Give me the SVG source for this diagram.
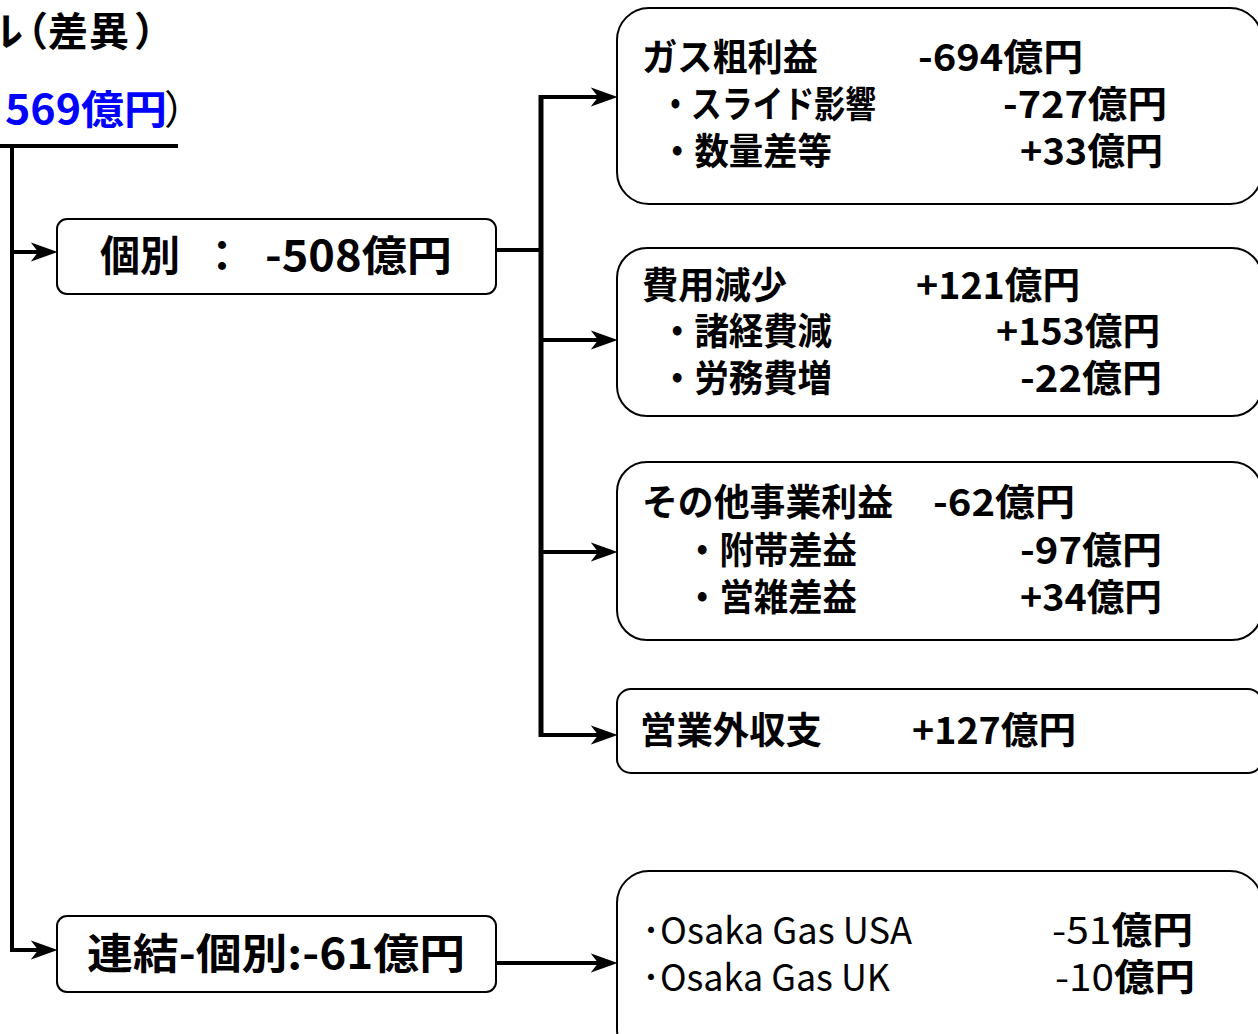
<svg xmlns="http://www.w3.org/2000/svg" width="1258" height="1034" viewBox="0 0 1258 1034">
<style>
.box{fill:#fff;stroke:#000;stroke-width:2}
.t{font-family:"Noto Sans CJK JP","Liberation Sans",sans-serif;font-weight:700;font-size:37px;fill:#000}
.r{font-weight:400}
.big{font-size:42px}
.hd{font-size:40px}
.ln{fill:none;stroke:#000;stroke-width:4}
.arr{fill:none;stroke:#000;stroke-width:4;marker-end:url(#ah)}
</style>
<defs>
<marker id="ah" markerUnits="userSpaceOnUse" viewBox="0 0 25 20" markerWidth="27" markerHeight="22" refX="17" refY="10" orient="auto">
<path d="M0,1 L25,10 L0,19 L7,10 Z" fill="#000"/>
</marker>
</defs>
<rect width="1258" height="1034" fill="#fff"/>

<g id="title">
<text class="t hd" x="-17 8 48 89 134" y="46">ル（差異）</text>
<text class="t hd" x="-14" y="124" style="fill:#0000ff">-</text>
<text class="t hd" x="5" y="124" textLength="162" lengthAdjust="spacingAndGlyphs" style="fill:#0000ff">569億円</text>
<text class="t hd r" x="164" y="124">）</text>
</g>

<g id="connectors">
<path class="ln" d="M0,146 H178"/>
<path class="arr" d="M12,144 V950 H49"/>
<path class="arr" d="M12,252 H49"/>
<path class="ln" d="M496,250 H541"/>
<path class="ln" d="M541,95 V737" style="stroke-width:5"/>
<path class="arr" d="M539,97 H609"/>
<path class="arr" d="M541,340 H609"/>
<path class="arr" d="M541,552 H609"/>
<path class="arr" d="M539,735 H609"/>
<path class="arr" d="M496,963 H609"/>
</g>

<g id="node-kobetsu">
<rect class="box" x="57" y="219" width="439" height="75" rx="10"/>
<text class="t big" x="100" y="271" textLength="80" lengthAdjust="spacingAndGlyphs">個別</text>
<text class="t big" x="201" y="271">：</text>
<text class="t big" x="265" y="271" textLength="187" lengthAdjust="spacingAndGlyphs">-508億円</text>
</g>

<g id="node-renketsu">
<rect class="box" x="57" y="916" width="439" height="76" rx="10"/>
<text class="t big" x="87" y="969" textLength="378" lengthAdjust="spacingAndGlyphs">連結-個別:-61億円</text>
</g>

<g id="node-gas">
<rect class="box" x="617" y="8" width="645" height="196" rx="32"/>
<text class="t" x="642" y="71" textLength="176" lengthAdjust="spacingAndGlyphs">ガス粗利益</text>
<text class="t" x="918" y="71" textLength="165" lengthAdjust="spacingAndGlyphs">-694億円</text>
<text class="t" x="660" y="118" textLength="216" lengthAdjust="spacingAndGlyphs">・スライド影響</text>
<text class="t" x="1003" y="118" textLength="164" lengthAdjust="spacingAndGlyphs">-727億円</text>
<text class="t" x="660" y="165" textLength="172" lengthAdjust="spacingAndGlyphs">・数量差等</text>
<text class="t" x="1020" y="165" textLength="143" lengthAdjust="spacingAndGlyphs">+33億円</text>
</g>

<g id="node-hiyou">
<rect class="box" x="617" y="248" width="645" height="168" rx="30"/>
<text class="t" x="642" y="299" textLength="145" lengthAdjust="spacingAndGlyphs">費用減少</text>
<text class="t" x="916" y="299" textLength="164" lengthAdjust="spacingAndGlyphs">+121億円</text>
<text class="t" x="660" y="345" textLength="172" lengthAdjust="spacingAndGlyphs">・諸経費減</text>
<text class="t" x="996" y="345" textLength="164" lengthAdjust="spacingAndGlyphs">+153億円</text>
<text class="t" x="660" y="392" textLength="172" lengthAdjust="spacingAndGlyphs">・労務費増</text>
<text class="t" x="1020" y="392" textLength="142" lengthAdjust="spacingAndGlyphs">-22億円</text>
</g>

<g id="node-sonota">
<rect class="box" x="617" y="462" width="645" height="178" rx="30"/>
<text class="t" x="642" y="516" textLength="251" lengthAdjust="spacingAndGlyphs">その他事業利益</text>
<text class="t" x="933" y="516" textLength="142" lengthAdjust="spacingAndGlyphs">-62億円</text>
<text class="t" x="685" y="564" textLength="172" lengthAdjust="spacingAndGlyphs">・附帯差益</text>
<text class="t" x="1020" y="564" textLength="142" lengthAdjust="spacingAndGlyphs">-97億円</text>
<text class="t" x="685" y="611" textLength="172" lengthAdjust="spacingAndGlyphs">・営雑差益</text>
<text class="t" x="1020" y="611" textLength="142" lengthAdjust="spacingAndGlyphs">+34億円</text>
</g>

<g id="node-eigyougai">
<rect class="box" x="617" y="689" width="645" height="84" rx="14"/>
<text class="t" x="640" y="744" textLength="182" lengthAdjust="spacingAndGlyphs">営業外収支</text>
<text class="t" x="912" y="744" textLength="164" lengthAdjust="spacingAndGlyphs">+127億円</text>
</g>

<g id="node-subsidiaries">
<rect class="box" x="617" y="871" width="645" height="190" rx="32"/>
<text class="t r" x="642" y="944" textLength="270" lengthAdjust="spacingAndGlyphs">･Osaka Gas USA</text>
<text class="t r" x="1052" y="944" textLength="141" lengthAdjust="spacingAndGlyphs">-51<tspan font-weight="700">億円</tspan></text>
<text class="t r" x="642" y="991" textLength="248" lengthAdjust="spacingAndGlyphs">･Osaka Gas UK</text>
<text class="t r" x="1055" y="991" textLength="140" lengthAdjust="spacingAndGlyphs">-10<tspan font-weight="700">億円</tspan></text>
</g>
</svg>
